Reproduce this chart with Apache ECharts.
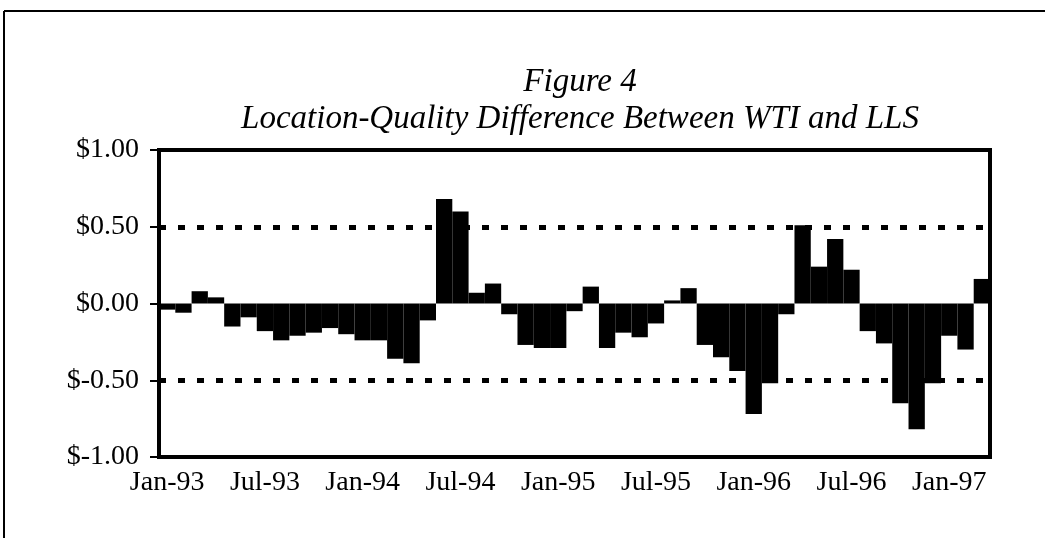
<!DOCTYPE html>
<html>
<head>
<meta charset="utf-8">
<script src="https://cdn.jsdelivr.net/npm/echarts@6/dist/echarts.min.js"></script>
<style>
html,body{margin:0;padding:0;background:#fff;}
#chart{width:1045px;height:538px;}
</style>
</head>
<body>
<div id="chart"></div>
<script>
const months = [
  'Jan-93','Feb-93','Mar-93','Apr-93','May-93','Jun-93','Jul-93','Aug-93','Sep-93','Oct-93','Nov-93','Dec-93',
  'Jan-94','Feb-94','Mar-94','Apr-94','May-94','Jun-94','Jul-94','Aug-94','Sep-94','Oct-94','Nov-94','Dec-94',
  'Jan-95','Feb-95','Mar-95','Apr-95','May-95','Jun-95','Jul-95','Aug-95','Sep-95','Oct-95','Nov-95','Dec-95',
  'Jan-96','Feb-96','Mar-96','Apr-96','May-96','Jun-96','Jul-96','Aug-96','Sep-96','Oct-96','Nov-96','Dec-96',
  'Jan-97','Feb-97','Mar-97'
];
const difference = [
  -0.04, -0.06, 0.08, 0.04, -0.15, -0.09, -0.18, -0.24, -0.21, -0.19, -0.16, -0.20,
  -0.24, -0.24, -0.36, -0.39, -0.11, 0.68, 0.60, 0.07, 0.13, -0.07, -0.27, -0.29,
  -0.29, -0.05, 0.11, -0.29, -0.19, -0.22, -0.13, 0.02, 0.10, -0.27, -0.35, -0.44,
  -0.72, -0.52, -0.07, 0.51, 0.24, 0.42, 0.22, -0.18, -0.26, -0.65, -0.82, -0.52,
  -0.21, -0.30, 0.16
];
const refLines = [0.5, -0.5];
const titleText = 'Figure 4';
const subtitleText = 'Location-Quality Difference Between WTI and LLS';

const font = '"Liberation Serif", "DejaVu Serif", serif';
const chart = echarts.init(document.getElementById('chart'), null, {renderer: 'canvas'});
chart.setOption({
  animation: false,
  backgroundColor: '#fff',
  title: [
    {text: titleText, left: 575, top: 61, textAlign: 'center',
     textStyle: {fontFamily: font, fontStyle: 'italic', fontWeight: 'normal', fontSize: 33, color: '#000'}},
    {text: subtitleText, left: 575, top: 98, textAlign: 'center',
     textStyle: {fontFamily: font, fontStyle: 'italic', fontWeight: 'normal', fontSize: 33, color: '#000'}}
  ],
  graphic: [
    {type: 'line', shape: {x1: 4, y1: 11, x2: 1045, y2: 11}, style: {stroke: '#000', lineWidth: 2}},
    {type: 'line', shape: {x1: 4, y1: 11, x2: 4, y2: 538}, style: {stroke: '#000', lineWidth: 2}}
  ],
  grid: {left: 159, right: 55, top: 150, bottom: 81, show: true, borderColor: '#000', borderWidth: 4, backgroundColor: 'transparent'},
  xAxis: {
    type: 'category',
    data: months,
    axisLine: {show: false},
    axisTick: {show: false},
    axisLabel: {interval: 5, fontFamily: font, fontSize: 28, color: '#000', margin: 12}
  },
  yAxis: {
    type: 'value',
    min: -1, max: 1, interval: 0.5,
    axisLine: {show: true, lineStyle: {color: '#000', width: 4}},
    axisTick: {show: true, length: 9, lineStyle: {color: '#000', width: 2}},
    splitLine: {show: false},
    axisLabel: {
      fontFamily: font, fontSize: 28, color: '#000', margin: 20,
      formatter: v => (v < 0 ? '$-' : '$') + Math.abs(v).toFixed(2)
    }
  },
  series: [{
    type: 'bar',
    data: difference,
    barCategoryGap: '0%',
    itemStyle: {color: '#000'},
    markLine: {
      silent: true,
      symbol: 'none',
      label: {show: false},
      lineStyle: {color: '#000', width: 5, type: [7, 12]},
      data: refLines.map(v => ({yAxis: v}))
    }
  }]
});
</script>
</body>
</html>
